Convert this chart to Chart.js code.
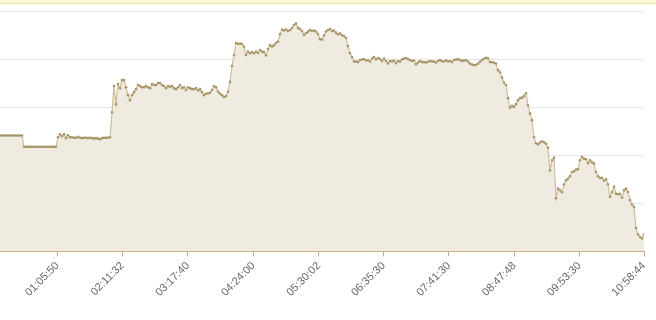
<!DOCTYPE html>
<html>
<head>
<meta charset="utf-8">
<script src="https://cdn.jsdelivr.net/npm/chart.js@4"></script>
<style>
  html, body { margin: 0; padding: 0; background: #ffffff; overflow: hidden; }
  #wrap { position: relative; width: 656px; height: 320px; overflow: hidden; }
  #strip { position: absolute; left: 0; top: 0; width: 656px; height: 3px; background: #fdf6d4; border-bottom: 1px solid #f4e6ad; z-index: 2; }
  canvas { position: absolute; left: -4px; top: 0; }
</style>
</head>
<body>
<div id="wrap">
  <div id="strip"></div>
  <canvas id="c" width="660" height="320"></canvas>
</div>
<script>
// Time span of the series
const startTime = '00:07:43';
const endTime = '10:58:44';

// Tick labels shown on the x axis
const tickLabels = ['01:05:50','02:11:32','03:17:40','04:24:00','05:30:02','06:35:30','07:41:30','08:47:48','09:53:30','10:58:44'];

// Series values (evenly sampled from start to end)
const values = [
  48.2,48.2,48.2,48.2,48.2,48.2,48.2,48.2,48.2,48.2,
  48.2,48.2,43.5,43.5,43.5,43.5,43.5,43.5,43.5,43.5,
  43.5,43.5,43.5,43.5,43.5,43.5,43.5,43.5,43.5,47.5,
  48.75,47.9,48.75,47.1,48.3,47.5,47.5,47.3,47.3,47.7,
  47.3,47.1,47.3,47.3,47.1,47.3,47.1,46.9,47.1,46.9,
  46.7,47.1,47.3,47.3,47.3,47.5,57.9,68.75,61.25,69.6,
  67.9,71.25,71.25,68.3,65.0,62.9,65.0,66.25,67.5,69.2,
  68.75,68.3,68.3,68.75,68.3,67.9,69.6,69.2,69.2,70.0,
  70.0,69.2,68.75,67.9,68.75,68.5,68.75,67.9,67.5,68.3,
  69.2,67.9,68.3,67.1,68.3,67.9,67.5,67.5,67.9,66.9,
  67.5,66.25,65.0,65.6,65.8,66.0,67.1,68.75,68.3,66.5,
  65.7,65.0,64.2,64.6,66.4,70.5,77.1,81.7,86.7,86.25,
  86.5,86.25,85.1,81.7,83.1,82.4,82.9,82.3,83.1,82.5,
  83.75,83.1,82.9,81.5,84.2,85.8,85.2,85.8,86.7,87.2,
  90.4,92.3,91.9,92.3,91.7,92.1,92.9,94.2,94.8,93.0,
  92.5,91.7,90.0,90.8,91.4,92.1,91.7,91.9,91.5,90.4,
  88.3,88.1,89.8,91.5,92.1,92.5,91.7,91.9,91.0,90.3,
  90.7,89.9,89.6,88.75,85.4,82.4,80.8,79.0,79.0,78.75,
  79.6,79.8,80.0,79.4,79.6,78.9,80.2,80.8,79.8,80.4,
  80.0,79.2,80.2,79.2,78.2,79.2,79.0,79.4,78.3,79.2,
  78.9,79.8,80.2,80.4,80.0,79.6,79.2,79.4,77.9,78.6,
  79.2,78.75,78.75,78.6,78.9,79.2,79.0,79.0,78.6,79.2,
  79.6,79.1,79.0,79.5,79.0,79.2,78.75,79.6,79.8,80.0,
  79.6,79.25,79.4,79.5,79.0,78.2,77.7,77.5,77.6,78.1,
  78.9,79.6,80.1,80.5,80.3,78.75,78.75,78.5,78.1,75.4,
  74.5,72.3,70.2,69.2,63.75,59.8,60.6,60.1,61.25,62.9,
  63.75,63.96,64.6,65.8,60.8,57.3,54.6,47.5,45.0,44.6,
  45.3,45.8,45.4,44.8,43.1,33.75,37.9,38.9,22.1,26.1,
  25.4,24.6,27.8,29.6,30.2,31.25,33.0,33.3,34.0,34.2,
  37.9,39.3,38.5,38.3,36.7,37.9,37.1,36.5,33.0,31.25,
  30.5,30.6,29.4,30.0,27.9,22.7,24.7,26.9,24.0,23.75,
  24.0,22.3,25.4,26.1,24.7,21.25,19.5,18.5,9.7,7.1,
  6.0,5.4,7.0
];

function toSec(s) {
  const p = s.split(':').map(Number);
  return p[0] * 3600 + p[1] * 60 + p[2];
}
const t0 = toSec(startTime);
const t1 = toSec(endTime);
const stepSec = (t1 - t0) / (values.length - 1);
const points = values.map((v, i) => ({ x: t0 + i * stepSec, y: v }));
const tickSeconds = tickLabels.map(toSec);

const tan = '#c5ab7d';

new Chart(document.getElementById('c'), {
  type: 'line',
  data: {
    datasets: [{
      data: points,
      borderColor: '#cfbe97',
      borderWidth: 1.2,
      backgroundColor: '#f0ebe1',
      fill: 'origin',
      tension: 0,
      pointRadius: 1.3,
      pointBackgroundColor: '#a8966a',
      pointBorderColor: '#a8966a',
      pointBorderWidth: 0
    }]
  },
  options: {
    responsive: false,
    animation: false,
    layout: { padding: { top: 11, right: 12, bottom: 18, left: 0 } },
    plugins: { legend: { display: false }, tooltip: { enabled: false } },
    scales: {
      x: {
        type: 'linear',
        min: t0,
        max: t1,
        afterBuildTicks: (scale) => { scale.ticks = tickSeconds.map(v => ({ value: v })); },
        afterFit: (scale) => { scale.paddingLeft = 0; scale.paddingRight = 0; },
        ticks: {
          autoSkip: false,
          maxRotation: 45,
          minRotation: 45,
          color: '#666',
          font: { size: 11, family: 'Liberation Sans, Arial, sans-serif' },
          callback: (value, index) => tickLabels[index]
        },
        grid: { display: true, drawOnChartArea: false, drawTicks: true, tickLength: 5, color: tan },
        border: { display: true, color: tan, width: 1 }
      },
      y: {
        min: 0,
        max: 100,
        afterFit: (scale) => { scale.width = 0; scale.paddingTop = 0; scale.paddingBottom = 0; },
        ticks: { display: false, stepSize: 20 },
        grid: { color: '#e6e6e6', drawTicks: false },
        border: { display: false }
      }
    }
  }
});
</script>
</body>
</html>
